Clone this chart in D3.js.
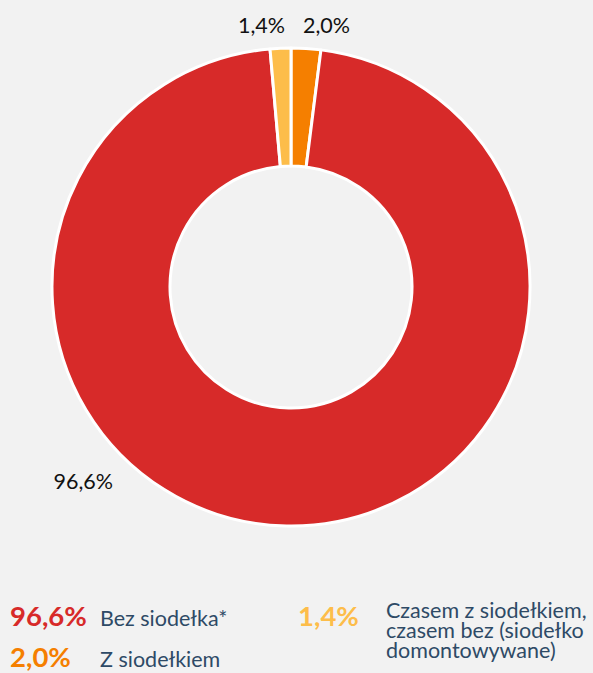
<!DOCTYPE html>
<html>
<head>
<meta charset="utf-8">
<script src="https://cdn.jsdelivr.net/npm/d3@7"></script>
<style>
  html, body { margin: 0; padding: 0; background: #f2f2f2; }
  svg { display: block; }
</style>
</head>
<body>
<svg id="canvas"></svg>
<script>
// dane - data
const categories = ['Z siodełkiem', 'Bez siodełka*', 'Czasem z siodełkiem, czasem bez (siodełko domontowywane)'];
const values = [2.0, 96.6, 1.4];
const valueLabels = ['2,0%', '96,6%', '1,4%'];
const colors = ['#f57f00', '#d72a29', '#fdbd4a'];
const legendLines = [
  ['Z siodełkiem'],
  ['Bez siodełka*'],
  ['Czasem z siodełkiem,', 'czasem bez (siodełko', 'domontowywane)']
];

// canvas
let w = 593;
let h = 673;
let cx = 291;
let cy = 287;
let outerR = 239;
let innerR = 121;

let canvas = d3.select('#canvas')
canvas.attr('width', w)
canvas.attr('height', h)

let pie = d3.pie().sort(null).value(d => d)
let arcs = pie(values)

let arc = d3.arc().innerRadius(innerR).outerRadius(outerR)

let g = canvas.append('g')
      .attr('transform', 'translate(' + cx + ',' + cy + ')')

g.selectAll('path')
      .data(arcs)
      .enter()
      .append('path')
      .attr('d', arc)
      .attr('fill', (d, i) => colors[i])
      .attr('stroke', '#ffffff')
      .attr('stroke-width', 3)
      .attr('stroke-linejoin', 'round')

// etykiety - labels
// the two small slices share the 12 o'clock boundary, their labels sit either side of it
let labelPos = arcs.map((d, i) => {
      if (i === 1) {
            let a = d.startAngle + (d.endAngle - d.startAngle) * 0.6315
            return [Math.sin(a) * 285, -Math.cos(a) * 285 + 7]
      }
      let a = i === 0 ? d.startAngle : d.endAngle
      return [Math.sin(a) * 254 + (i === 0 ? 12 : -6), -Math.cos(a) * 254]
})

g.selectAll('text.lbl')
      .data(arcs)
      .enter()
      .append('text')
      .attr('class', 'lbl')
      .attr('x', (d, i) => labelPos[i][0])
      .attr('y', (d, i) => labelPos[i][1])
      .attr('text-anchor', (d, i) => i === 0 ? 'start' : (i === 2 ? 'end' : 'middle'))
      .attr('font-family', 'Lato, sans-serif')
      .attr('font-size', 21.5)
      .attr('fill', '#111111')
      .text((d, i) => valueLabels[i])

// legenda - legend
let legendItems = [
      {i: 1, x: 10, y: 626},
      {i: 0, x: 10, y: 667},
      {i: 2, x: 298, y: 626}
]

let leg = canvas.append('g')

leg.selectAll('text.pct')
      .data(legendItems)
      .enter()
      .append('text')
      .attr('class', 'pct')
      .attr('x', d => d.x)
      .attr('y', d => d.y)
      .attr('font-family', 'Lato, sans-serif')
      .attr('font-weight', 'bold')
      .attr('font-size', 27.5)
      .attr('fill', d => colors[d.i])
      .text(d => valueLabels[d.i])

leg.selectAll('text.name')
      .data(legendItems)
      .enter()
      .append('text')
      .attr('class', 'name')
      .attr('x', d => d.x + (d.i === 2 ? 88 : 90))
      .attr('y', d => d.i === 2 ? d.y - 8 : d.y)
      .attr('font-family', 'Lato, sans-serif')
      .attr('font-size', 21.5)
      .attr('fill', '#2e4a66')
      .each(function(d) {
            let t = d3.select(this)
            legendLines[d.i].forEach((line, k) => {
                  t.append('tspan')
                        .attr('x', d.x + (d.i === 2 ? 88 : 90))
                        .attr('dy', k === 0 ? 0 : 20)
                        .text(line)
            })
      })
</script>
</body>
</html>
